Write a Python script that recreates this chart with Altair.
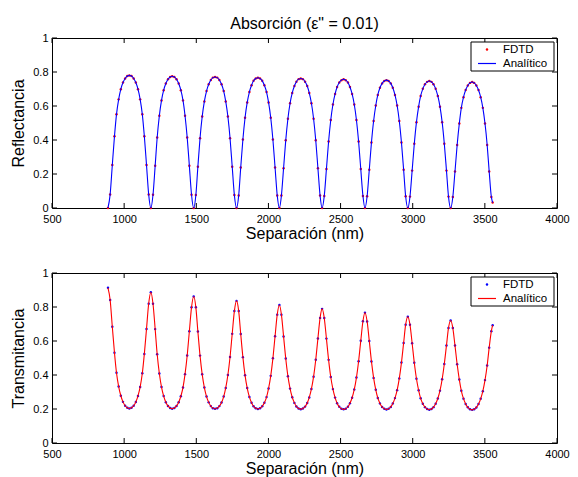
import altair as alt
import pandas as pd

FONT = "Liberation Sans"

# Separación (nm)
separacion = [
    888, 903, 918, 933, 947, 962, 977, 992, 1007, 1022, 1036, 1051, 1066, 1081, 1096, 1111, 1126, 1140, 1155, 1170,
    1185, 1200, 1215, 1229, 1244, 1259, 1274, 1289, 1304, 1319, 1333, 1348, 1363, 1378, 1393, 1408, 1422, 1437, 1452, 1467,
    1482, 1497, 1511, 1526, 1541, 1556, 1571, 1586, 1601, 1615, 1630, 1645, 1660, 1675, 1690, 1704, 1719, 1734, 1749, 1764,
    1779, 1794, 1808, 1823, 1838, 1853, 1868, 1883, 1897, 1912, 1927, 1942, 1957, 1972, 1987, 2001, 2016, 2031, 2046, 2061,
    2076, 2090, 2105, 2120, 2135, 2150, 2165, 2180, 2194, 2209, 2224, 2239, 2254, 2269, 2283, 2298, 2313, 2328, 2343, 2358,
    2372, 2387, 2402, 2417, 2432, 2447, 2462, 2476, 2491, 2506, 2521, 2536, 2551, 2565, 2580, 2595, 2610, 2625, 2640, 2655,
    2669, 2684, 2699, 2714, 2729, 2744, 2758, 2773, 2788, 2803, 2818, 2833, 2848, 2862, 2877, 2892, 2907, 2922, 2937, 2951,
    2966, 2981, 2996, 3011, 3026, 3041, 3055, 3070, 3085, 3100, 3115, 3130, 3144, 3159, 3174, 3189, 3204, 3219, 3234, 3248,
    3263, 3278, 3293, 3308, 3323, 3337, 3352, 3367, 3382, 3397, 3412, 3426, 3441, 3456, 3471, 3486, 3501, 3516, 3530, 3545,
    3554,
]

reflectancia = [
    0.000, 0.080, 0.253, 0.422, 0.551, 0.639, 0.699, 0.738, 0.762, 0.776, 0.780, 0.776, 0.762, 0.738, 0.699, 0.639, 0.551, 0.422, 0.253, 0.080,
    0.000, 0.078, 0.248, 0.415, 0.543, 0.633, 0.693, 0.732, 0.757, 0.771, 0.775, 0.771, 0.757, 0.732, 0.693, 0.633, 0.543, 0.415, 0.248, 0.078,
    0.000, 0.076, 0.243, 0.410, 0.538, 0.627, 0.688, 0.728, 0.753, 0.767, 0.771, 0.767, 0.753, 0.728, 0.688, 0.627, 0.538, 0.410, 0.243, 0.076,
    0.000, 0.074, 0.238, 0.403, 0.531, 0.621, 0.682, 0.722, 0.748, 0.762, 0.766, 0.762, 0.748, 0.722, 0.682, 0.621, 0.531, 0.403, 0.238, 0.074,
    0.000, 0.073, 0.234, 0.398, 0.525, 0.616, 0.677, 0.718, 0.743, 0.758, 0.762, 0.758, 0.743, 0.718, 0.677, 0.616, 0.525, 0.398, 0.234, 0.073,
    0.000, 0.071, 0.229, 0.391, 0.518, 0.609, 0.671, 0.712, 0.738, 0.752, 0.757, 0.752, 0.738, 0.712, 0.671, 0.609, 0.518, 0.391, 0.229, 0.071,
    0.000, 0.069, 0.225, 0.385, 0.512, 0.603, 0.665, 0.707, 0.733, 0.747, 0.752, 0.747, 0.733, 0.707, 0.665, 0.603, 0.512, 0.385, 0.225, 0.069,
    0.000, 0.067, 0.220, 0.378, 0.505, 0.596, 0.659, 0.701, 0.728, 0.742, 0.747, 0.742, 0.728, 0.701, 0.659, 0.596, 0.505, 0.378, 0.220, 0.067,
    0.000, 0.065, 0.215, 0.371, 0.497, 0.589, 0.652, 0.694, 0.721, 0.736, 0.741, 0.736, 0.721, 0.694, 0.652, 0.589, 0.497, 0.371, 0.215, 0.065,
    0.032,
]

transmitancia = [
    0.913, 0.841, 0.684, 0.531, 0.413, 0.332, 0.278, 0.242, 0.219, 0.207, 0.203, 0.207, 0.219, 0.241, 0.277, 0.330, 0.410, 0.524, 0.671, 0.819,
    0.887, 0.819, 0.670, 0.522, 0.409, 0.329, 0.276, 0.240, 0.218, 0.206, 0.202, 0.206, 0.218, 0.240, 0.275, 0.327, 0.405, 0.515, 0.657, 0.798,
    0.862, 0.798, 0.656, 0.514, 0.404, 0.326, 0.273, 0.239, 0.217, 0.205, 0.201, 0.205, 0.217, 0.238, 0.273, 0.324, 0.400, 0.506, 0.642, 0.776,
    0.836, 0.776, 0.641, 0.505, 0.398, 0.323, 0.271, 0.237, 0.216, 0.204, 0.200, 0.204, 0.216, 0.237, 0.270, 0.321, 0.395, 0.498, 0.628, 0.755,
    0.812, 0.755, 0.627, 0.497, 0.393, 0.320, 0.269, 0.236, 0.215, 0.203, 0.199, 0.203, 0.214, 0.235, 0.268, 0.318, 0.390, 0.490, 0.615, 0.736,
    0.789, 0.735, 0.614, 0.489, 0.388, 0.317, 0.267, 0.234, 0.213, 0.202, 0.198, 0.202, 0.213, 0.234, 0.266, 0.315, 0.385, 0.481, 0.601, 0.716,
    0.766, 0.715, 0.600, 0.480, 0.383, 0.313, 0.265, 0.233, 0.212, 0.201, 0.197, 0.201, 0.212, 0.232, 0.264, 0.311, 0.380, 0.473, 0.588, 0.696,
    0.743, 0.696, 0.587, 0.472, 0.378, 0.310, 0.263, 0.231, 0.211, 0.200, 0.196, 0.200, 0.211, 0.231, 0.262, 0.308, 0.375, 0.465, 0.574, 0.677,
    0.721, 0.676, 0.573, 0.463, 0.373, 0.307, 0.261, 0.230, 0.210, 0.199, 0.195, 0.199, 0.209, 0.229, 0.260, 0.305, 0.370, 0.456, 0.561, 0.658,
    0.693,
]

x_ticks = [500, 1000, 1500, 2000, 2500, 3000, 3500, 4000]
y_ticks = [0, 0.2, 0.4, 0.6, 0.8, 1]
legend_labels = ["FDTD", "Analítico"]
titulo = 'Absorción (ε" = 0.01)'
x_title = "Separación (nm)"
y_titles = ["Reflectancia", "Transmitancia"]

W, H = 505, 170
TICK = 5
RED = "#ff0000"
BLUE = "#0000ff"

df = pd.DataFrame({"sep": separacion, "R": reflectancia, "T": transmitancia})
one_row = pd.DataFrame({"k": [0]})

x_scale = alt.Scale(domain=[500, 4000], nice=False, zero=False)
y_scale = alt.Scale(domain=[0, 1], nice=False)

AXIS_STYLE = dict(
    ticks=False, domain=False, grid=False, labelOverlap=False,
    labelFont=FONT, titleFont=FONT, labelFontSize=11, titleFontSize=16,
    labelColor="black", titleColor="black", titleFontWeight="normal",
)


def x_enc():
    return alt.X(
        "sep:Q",
        scale=x_scale,
        axis=alt.Axis(
            values=x_ticks, format="d", title=x_title, labelFlush=False,
            labelPadding=5, titlePadding=1, **AXIS_STYLE,
        ),
    )


def y_enc(field, title):
    return alt.Y(
        f"{field}:Q",
        scale=y_scale,
        axis=alt.Axis(
            values=y_ticks, format="~g", title=title,
            labelPadding=4, titlePadding=6, **AXIS_STYLE,
        ),
    )


def panel(field, title, dot_color, line_color):
    dots = alt.Chart(df).mark_circle(color=dot_color, size=6, opacity=1).encode(
        x=x_enc(), y=y_enc(field, title)
    )
    line = alt.Chart(df).mark_line(color=line_color, strokeWidth=1.1, interpolate="monotone").encode(
        x=x_enc(), y=y_enc(field, title)
    )
    xt = pd.DataFrame({"sep": x_ticks})
    yt = pd.DataFrame({field: y_ticks})
    xt_bot = alt.Chart(xt).mark_rule(color="black", strokeWidth=1).encode(
        x=x_enc(), y=alt.value(H - TICK), y2=alt.value(H)
    )
    xt_top = alt.Chart(xt).mark_rule(color="black", strokeWidth=1).encode(
        x=x_enc(), y=alt.value(0), y2=alt.value(TICK)
    )
    yt_left = alt.Chart(yt).mark_rule(color="black", strokeWidth=1).encode(
        y=y_enc(field, title), x=alt.value(0), x2=alt.value(TICK)
    )
    yt_right = alt.Chart(yt).mark_rule(color="black", strokeWidth=1).encode(
        y=y_enc(field, title), x=alt.value(W - TICK), x2=alt.value(W)
    )
    bx = W - 86
    box = alt.Chart(one_row).mark_rect(fill="white", stroke="black", strokeWidth=1).encode(
        x=alt.value(bx), x2=alt.value(bx + 83), y=alt.value(4), y2=alt.value(33)
    )
    sym_dot = alt.Chart(one_row).mark_circle(color=dot_color, size=6, opacity=1).encode(
        x=alt.value(bx + 16), y=alt.value(11.5)
    )
    sym_line = alt.Chart(one_row).mark_rule(color=line_color, strokeWidth=1.2).encode(
        x=alt.value(bx + 7), x2=alt.value(bx + 25), y=alt.value(25.5)
    )
    t1 = alt.Chart(one_row).mark_text(
        text=legend_labels[0], align="left", baseline="middle", fontSize=11.5, font=FONT, color="black"
    ).encode(x=alt.value(bx + 32), y=alt.value(11.5))
    t2 = alt.Chart(one_row).mark_text(
        text=legend_labels[1], align="left", baseline="middle", fontSize=11.5, font=FONT, color="black"
    ).encode(x=alt.value(bx + 32), y=alt.value(25.5))
    return alt.layer(
        dots, line, xt_bot, xt_top, yt_left, yt_right, box, sym_dot, sym_line, t1, t2
    ).properties(width=W, height=H)


top = panel("R", y_titles[0], RED, BLUE).properties(
    title=alt.TitleParams(
        text=titulo, fontSize=16, font=FONT, fontWeight="normal", anchor="middle",
        offset=0, frame="group", color="black"
    )
)
bottom = panel("T", y_titles[1], BLUE, RED)

chart = alt.vconcat(top, bottom, spacing=24).properties(
    padding={"left": 2, "top": 7, "right": 0, "bottom": 0},
    background="white",
).configure_view(
    stroke="black", strokeWidth=1
)

chart.save("out.html", embed_options={"renderer": "svg", "actions": False})
